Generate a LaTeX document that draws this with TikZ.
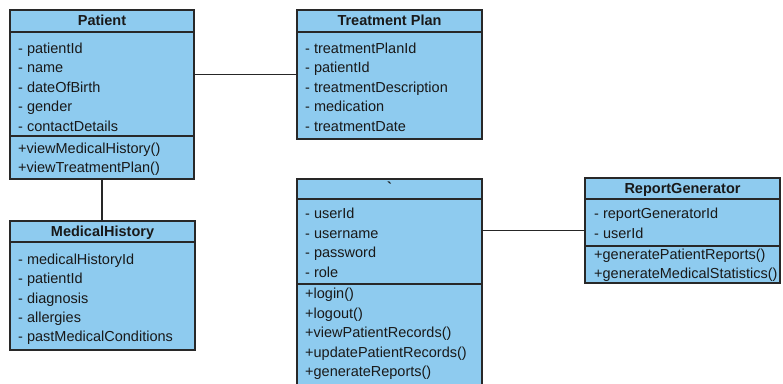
\documentclass[tikz,border=0pt]{standalone}
\usepackage{fontspec}
\setmainfont{Liberation Sans}
\definecolor{boxfill}{RGB}{142,203,239}
\definecolor{boxline}{RGB}{40,40,40}
\definecolor{txtcol}{RGB}{25,25,25}
\begin{document}
\begin{tikzpicture}[x=1pt,y=-1pt,
  umlbox/.style={draw=boxline, fill=boxfill, line width=1.1pt, inner sep=0pt, outer sep=0pt, anchor=north west},
  sep/.style={draw=boxline, line width=1.1pt},
  txt/.style={anchor=base west, inner sep=0pt, font=\fontsize{14.5}{17}\selectfont, text=txtcol},
  ttl/.style={anchor=base, inner sep=0pt, font=\fontsize{14.5}{17}\selectfont\bfseries, text=txtcol},
  link/.style={draw=black!85, line width=1.1pt}]
\useasboundingbox (0,0) rectangle (783,383);
\clip (0,0) rectangle (783,383);

% ---------- Patient ----------
\node[umlbox, minimum width=184pt, minimum height=169pt] (pat) at (10,10) {};
\draw[sep] (pat.west |- 0,32) -- (pat.east |- 0,32);
\draw[sep] (pat.west |- 0,136) -- (pat.east |- 0,136);
\node[ttl] (patT) at (102,25.5) {Patient};
\foreach \t [count=\i from 0] in {patientId,name,dateOfBirth,gender,contactDetails}
  \node[txt] (patA\i) at (18,{53+19.6*\i}) {- \t};
\foreach \t [count=\i from 0] in {viewMedicalHistory(),viewTreatmentPlan()}
  \node[txt] (patM\i) at (18,{153.3+19.6*\i}) {+\t};

% ---------- Treatment Plan ----------
\node[umlbox, minimum width=185pt, minimum height=129pt] (tp) at (297,10) {};
\draw[sep] (tp.west |- 0,32) -- (tp.east |- 0,32);
\node[ttl] (tpT) at (389.5,25.5) {Treatment Plan};
\foreach \t [count=\i from 0] in {treatmentPlanId,patientId,treatmentDescription,medication,treatmentDate}
  \node[txt] (tpA\i) at (305,{53+19.6*\i}) {- \t};

% ---------- MedicalHistory ----------
\node[umlbox, minimum width=185pt, minimum height=129pt] (mh) at (10,221) {};
\draw[sep] (mh.west |- 0,242) -- (mh.east |- 0,242);
\node[ttl] (mhT) at (102.5,236) {MedicalHistory};
\foreach \t [count=\i from 0] in {medicalHistoryId,patientId,diagnosis,allergies,pastMedicalConditions}
  \node[txt] (mhA\i) at (18,{264.5+19.3*\i}) {- \t};

% ---------- User (untitled) ----------
\node[umlbox, minimum width=185pt, minimum height=216pt] (usr) at (297,179) {};
\draw[sep] (usr.west |- 0,199) -- (usr.east |- 0,199);
\draw[sep] (usr.west |- 0,284) -- (usr.east |- 0,284);
\node[ttl] (usrT) at (389.5,192.5) {\textasciigrave};
\foreach \t [count=\i from 0] in {userId,username,password,role}
  \node[txt] (usrA\i) at (305,{218.5+19.5*\i}) {- \t};
\foreach \t [count=\i from 0] in {login(),logout(),viewPatientRecords(),updatePatientRecords(),generateReports()}
  \node[txt] (usrM\i) at (305,{298.5+19.5*\i}) {+\t};

% ---------- ReportGenerator ----------
\node[umlbox, minimum width=195pt, minimum height=105pt] (rg) at (585,178) {};
\draw[sep] (rg.west |- 0,199) -- (rg.east |- 0,199);
\draw[sep] (rg.west |- 0,246) -- (rg.east |- 0,246);
\node[ttl] (rgT) at (682.5,193) {ReportGenerator};
\foreach \t [count=\i from 0] in {reportGeneratorId,userId}
  \node[txt] (rgA\i) at (594,{218.5+19.5*\i}) {- \t};
\foreach \t [count=\i from 0] in {generatePatientReports(),generateMedicalStatistics()}
  \node[txt] (rgM\i) at (594,{259+19.3*\i}) {+\t};

% ---------- connectors ----------
\draw[link] (tp.west -| pat.east) -- (tp.west);
\draw[link] (pat.south) -- (pat.south |- mh.north);
\draw[link] (rg.west -| usr.east) -- (rg.west);
\end{tikzpicture}
\end{document}
